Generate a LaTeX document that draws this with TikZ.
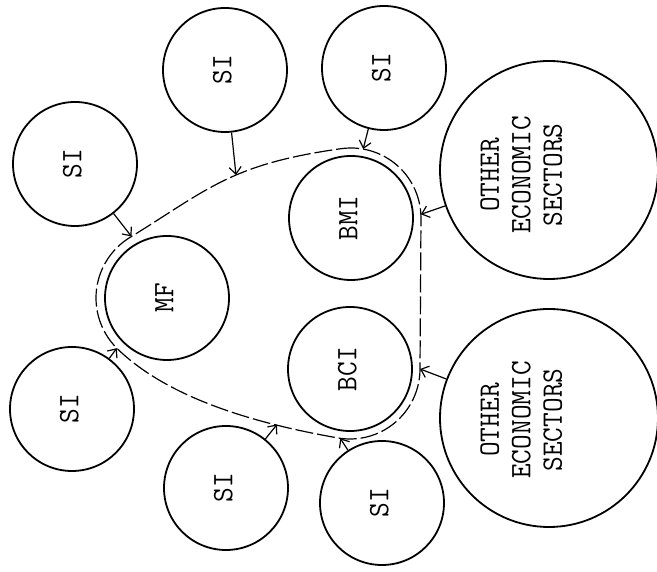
\documentclass[tikz,border=0pt]{standalone}
\usepackage{fontspec}
\usepackage{graphicx}
\newcommand\twtext[1]{\scalebox{1}[1.04]{\fontsize{28.5}{30.3}\selectfont\ttfamily\addfontfeatures{FakeBold=3}%
  \begin{tabular}{@{}c@{}}#1\end{tabular}}}
\usetikzlibrary{arrows.meta,calc}
\begin{document}
\begin{tikzpicture}[x=1pt,y=1pt,
  circ/.style={circle,draw,line width=1.8pt,minimum size=124pt,inner sep=0pt,rotate=90},
  bigcirc/.style={circle,draw,line width=1.8pt,minimum size=218pt,inner sep=0pt},
  lbl/.style={rotate=90,inner sep=0pt},
  dashline/.style={line width=1.2pt,dash pattern=on 18pt off 4pt},
  arr/.style={line width=1.2pt,-{Straight Barb[length=7pt,width=12pt]}}]
\useasboundingbox (0,0) rectangle (657,572);
\fill[white] (0,0) rectangle (657,572);

% circles
\node[circ] (siA) at (75,408) {\twtext{SI}};
\node[circ] (siB) at (225,502) {\twtext{SI}};
\node[circ] (siC) at (384,504) {\twtext{SI}};
\node[circ] (siD) at (72,163) {\twtext{SI}};
\node[circ] (siE) at (226,84) {\twtext{SI}};
\node[circ] (siF) at (382,69) {\twtext{SI}};
\node[circ] (MF) at (167,274) {\twtext{MF}};
\node[circ] (BMI) at (351,354) {\twtext{BMI}};
\node[circ] (BCI) at (350,203) {\twtext{BCI}};
\node[bigcirc] (oesA) at (549,402) {};
\node[bigcirc] (oesB) at (549,154) {};
\node[lbl] (oesAt) at (524,397) {\twtext{OTHER\\ECONOMIC\\SECTORS}};
\node[lbl] (oesBt) at (524,152) {\twtext{OTHER\\ECONOMIC\\SECTORS}};

% dashed boundary
\draw[dashline] ($(BMI)+(98:70)$) arc[start angle=98,end angle=0,radius=70]
  -- ($(BCI)+(0:70)$) arc[start angle=0,end angle=-100,radius=70]
  .. controls (263.9,147.1) and (170.8,170.8) .. ($(MF)+(225:71)$)
  arc[start angle=225,end angle=120,radius=71]
  .. controls (208.8,383.2) and (231.4,408) .. ($(BMI)+(98:70)$);

% arrow tips on the boundary
\coordinate (tA) at ($(MF)+(120:71)$);
\coordinate (tD) at ($(MF)+(225:71)$);
\coordinate (tB) at (236,397);
\coordinate (tC) at ($(BMI)+(80:70)$);
\coordinate (tO1) at ($(BMI)+(3:70)$);
\coordinate (tO2) at ($(BCI)+(0:70)$);
\coordinate (tF) at ($(BCI)+(-98:70)$);
\coordinate (tE) at (277,147.5);

\draw[arr] (siA) -- (tA);
\draw[arr] (siB) -- (tB);
\draw[arr] (siC) -- (tC);
\draw[arr] (oesA) -- (tO1);
\draw[arr] (oesB) -- (tO2);
\draw[arr] (siF) -- (tF);
\draw[arr] (siE) -- (tE);
\draw[arr] (siD) -- (tD);
\end{tikzpicture}
\end{document}
